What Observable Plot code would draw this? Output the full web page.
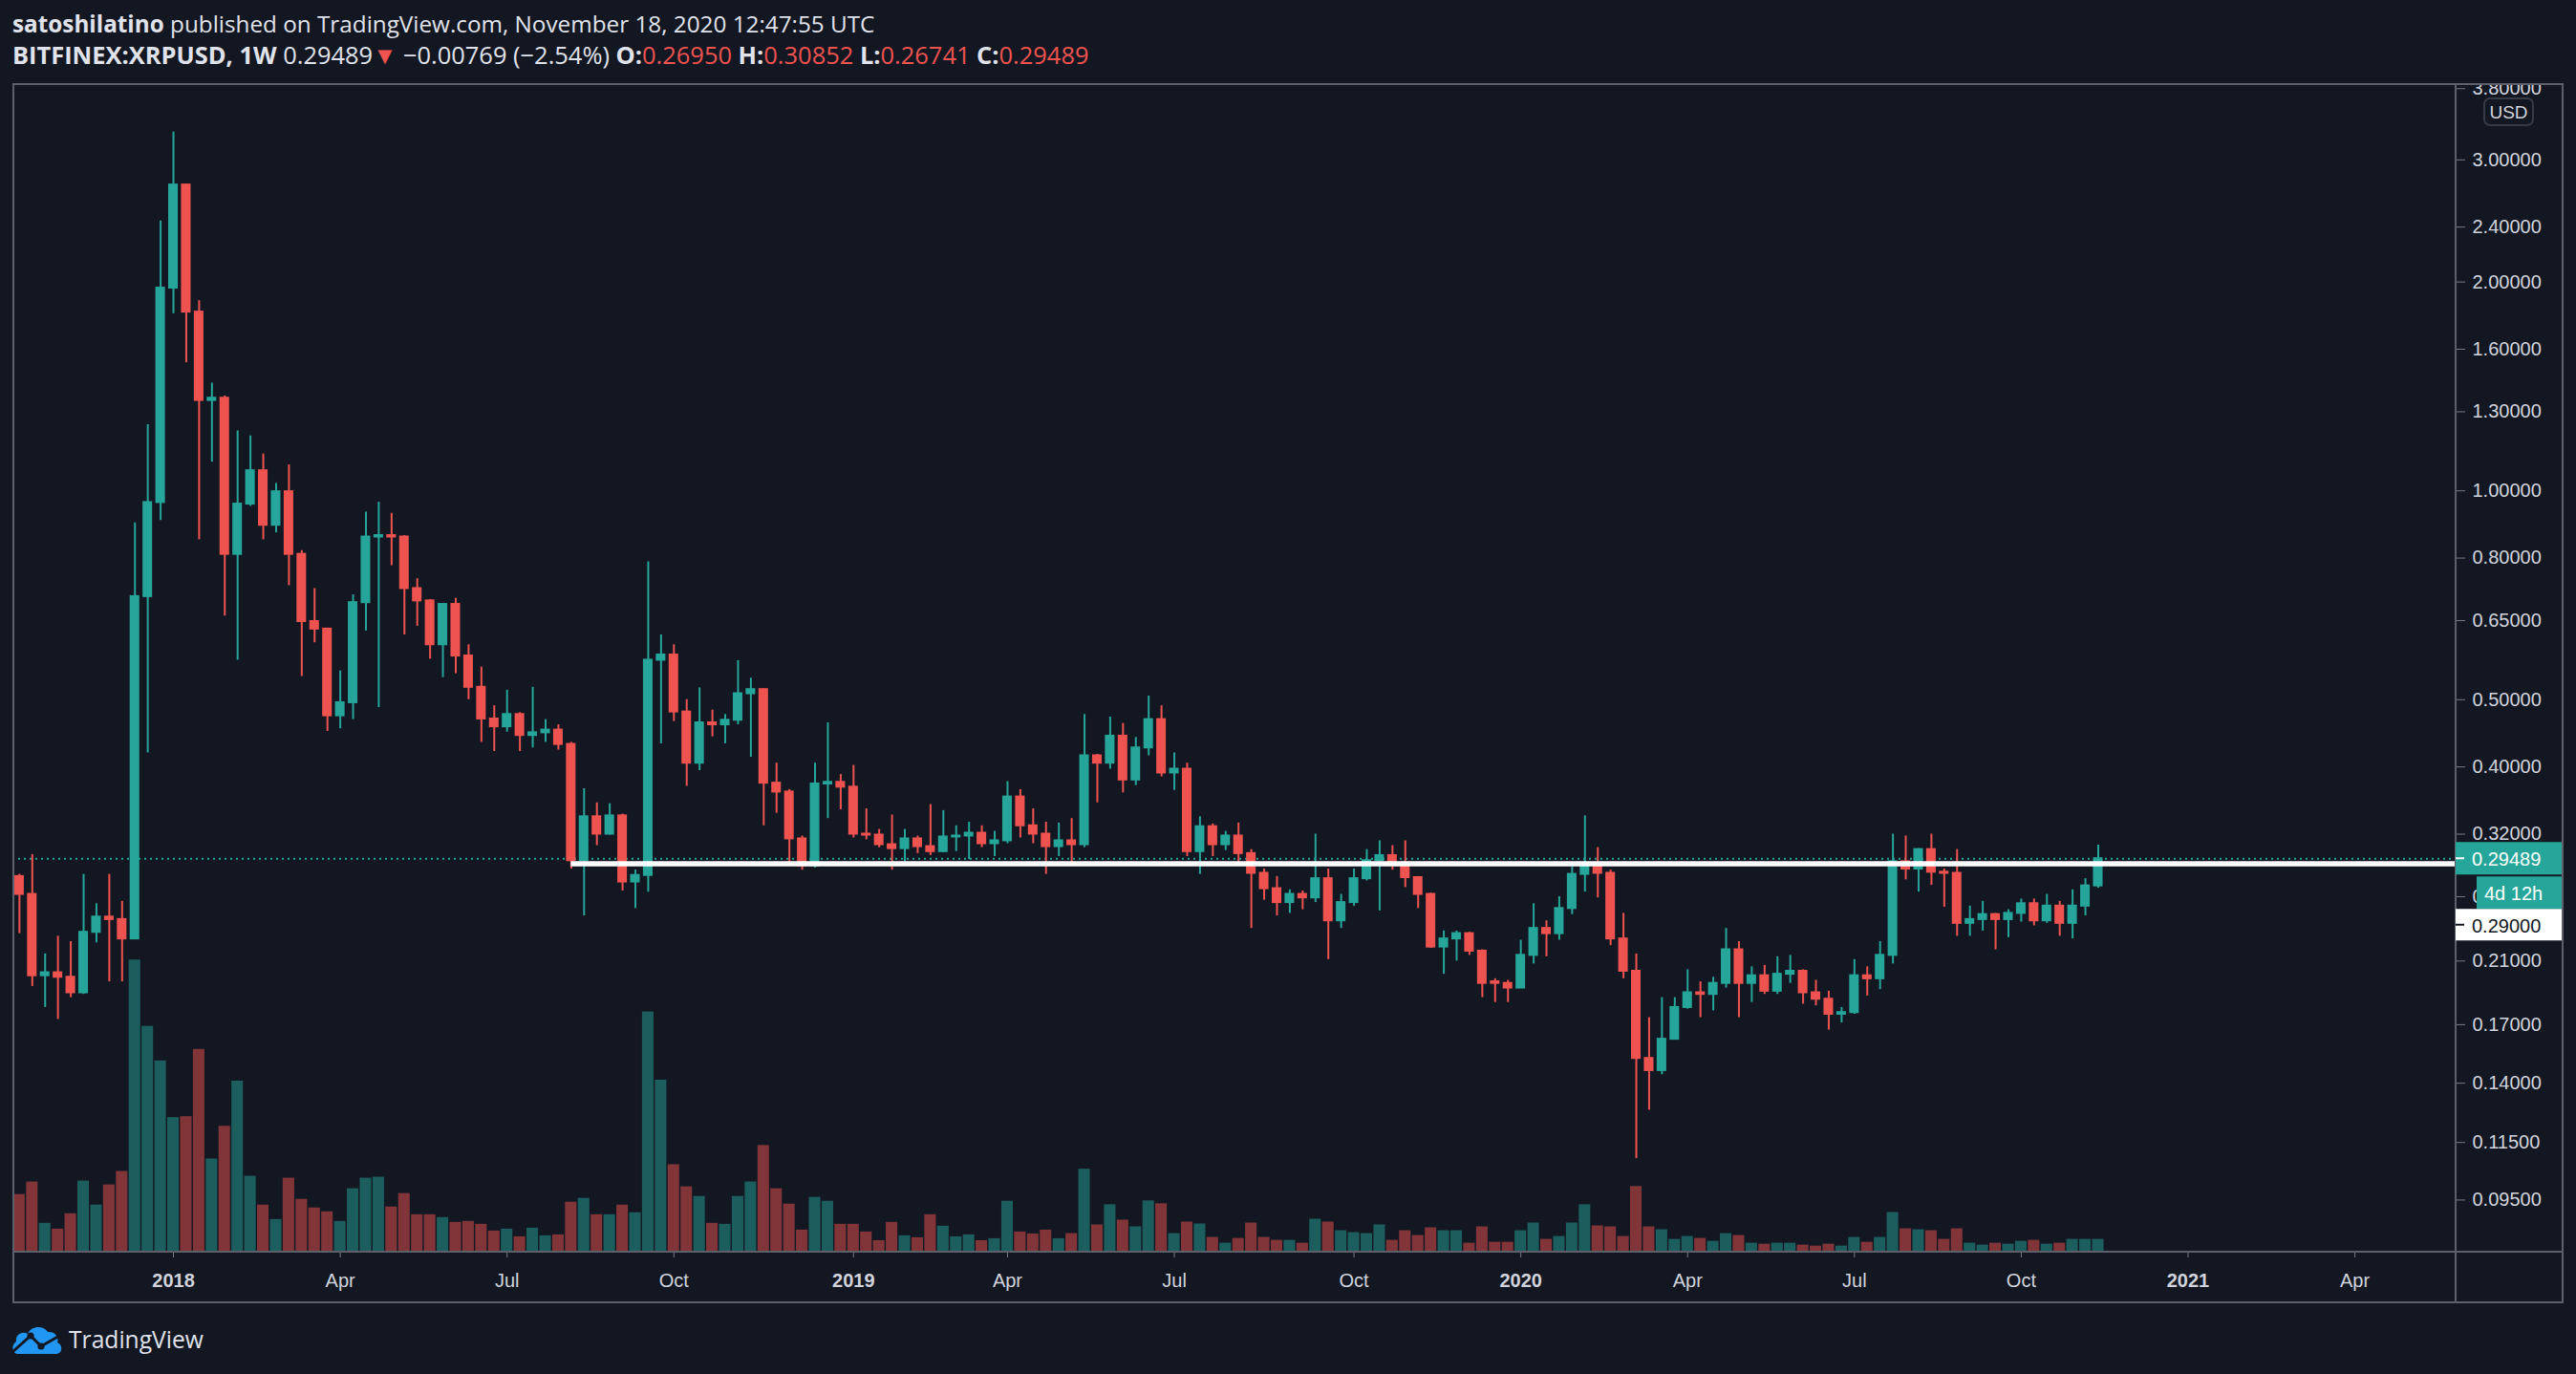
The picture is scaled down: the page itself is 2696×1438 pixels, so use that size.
<!DOCTYPE html>
<html>
<head>
<meta charset="utf-8">
<script src="https://cdn.jsdelivr.net/npm/d3@7"></script>
<script src="https://cdn.jsdelivr.net/npm/@observablehq/plot@0.6"></script>
<style>
html, body { margin: 0; padding: 0; background: #131722; }
#root { position: relative; width: 2696px; height: 1438px; background: #131722; overflow: hidden; }
.hdr { position: absolute; left: 13px; white-space: nowrap; color: #e0e3eb; font-family: "Open Sans", sans-serif; font-size: 22px; line-height: 1; }
.hdr b { font-weight: 700; }
.red { color: #ef5350; }
.layer { position: absolute; left: 13px; top: 87px; }
#logo { position: absolute; left: 12px; top: 1386px; display: flex; align-items: center; }
#logo span { font-family: "Open Sans", sans-serif; color: #e0e3eb; font-size: 30px; line-height: 1; margin-left: 6px; }
</style>
</head>
<body>
<div id="root">
  <div class="hdr" id="h1"><b>satoshilatino</b> published on TradingView.com, November 18, 2020 12:47:55 UTC</div>
  <div class="hdr" id="h2"><b>BITFINEX:XRPUSD, 1W</b> 0.29489<span class="red">▼</span> −0.00769 (−2.54%) <b>O:</b><span class="red">0.26950</span> <b>H:</b><span class="red">0.30852</span> <b>L:</b><span class="red">0.26741</span> <b>C:</b><span class="red">0.29489</span></div>
  <div class="layer" id="volLayer"></div>
  <div class="layer" id="priceLayer"></div>
  <div id="logo">
    <svg width="54" height="32" viewBox="0 0 54 32">
      <path d="M7 31 C1 31 -1 22 5 18 C4 10 12 7 17 10 C20 2 33 0 38 8 C46 7 50 14 48 19 C54 21 54 31 46 31 Z" fill="#2196f3"/>
      <polyline points="1,29 20,12 31,23 52,11" fill="none" stroke="#131722" stroke-width="3"/>
      <circle cx="20" cy="12" r="3.6" fill="#131722"/>
      <circle cx="31" cy="23" r="3.6" fill="#131722"/>
    </svg>
    <span id="logoText">TradingView</span>
  </div>
</div>
<script>
// ---------------- data (weekly candles, BITFINEX:XRPUSD) ----------------
const firstWeek = "2017-10-09";
const openP = [
  0.278,0.262,0.200,0.202,0.199,0.189,0.231,0.243,0.241,0.226,
  0.704,0.962,1.96,2.76,1.81,1.35,1.36,0.81,0.957,1.069,
  0.892,0.997,0.81,0.648,0.632,0.474,0.495,0.69,0.858,0.862,
  0.858,0.723,0.694,0.60,0.686,0.578,0.521,0.469,0.457,0.476,
  0.444,0.448,0.452,0.431,0.293,0.339,0.32,0.34,0.273,0.279,
  0.57,0.58,0.48,0.405,0.463,0.46,0.467,0.51,0.517,0.379,
  0.368,0.315,0.288,0.378,0.38,0.374,0.32,0.319,0.309,0.305,
  0.315,0.307,0.302,0.317,0.318,0.321,0.31,0.313,0.362,0.329,
  0.32,0.307,0.313,0.309,0.415,0.405,0.443,0.383,0.426,0.468,
  0.392,0.397,0.302,0.328,0.309,0.318,0.30,0.281,0.267,0.255,
  0.262,0.259,0.276,0.24,0.255,0.276,0.293,0.298,0.291,0.277,
  0.262,0.22,0.226,0.23,0.217,0.196,0.195,0.192,0.214,0.234,
  0.23,0.25,0.28,0.29,0.281,0.226,0.203,0.152,0.146,0.162,
  0.18,0.189,0.188,0.195,0.218,0.195,0.20,0.19,0.201,0.203,
  0.189,0.185,0.176,0.177,0.20,0.198,0.214,0.292,0.285,0.304,
  0.282,0.281,0.238,0.241,0.245,0.241,0.246,0.254,0.24,0.252,
  0.238,0.252,0.2695
];
const highP = [
  0.280,0.299,0.215,0.228,0.224,0.280,0.254,0.280,0.256,0.899,
  1.245,2.45,3.29,2.77,1.88,1.43,1.37,1.22,1.20,1.13,
  1.025,1.09,0.82,0.723,0.634,0.55,0.708,0.932,0.963,0.928,
  0.862,0.747,0.697,0.686,0.70,0.60,0.557,0.49,0.516,0.479,
  0.521,0.468,0.46,0.434,0.372,0.355,0.354,0.342,0.284,0.79,
  0.62,0.60,0.50,0.52,0.483,0.476,0.569,0.537,0.518,0.405,
  0.371,0.318,0.405,0.463,0.39,0.402,0.348,0.325,0.341,0.325,
  0.318,0.353,0.346,0.329,0.333,0.329,0.323,0.381,0.371,0.348,
  0.333,0.332,0.337,0.476,0.417,0.472,0.462,0.441,0.506,0.49,
  0.419,0.405,0.339,0.331,0.323,0.332,0.304,0.285,0.278,0.266,
  0.265,0.32,0.285,0.262,0.285,0.304,0.313,0.308,0.313,0.278,
  0.263,0.232,0.232,0.231,0.218,0.198,0.197,0.225,0.254,0.24,
  0.26,0.287,0.34,0.306,0.284,0.246,0.215,0.174,0.186,0.186,
  0.204,0.196,0.199,0.234,0.224,0.206,0.207,0.213,0.214,0.204,
  0.197,0.19,0.18,0.211,0.206,0.224,0.32,0.318,0.305,0.32,
  0.285,0.304,0.252,0.256,0.246,0.249,0.258,0.258,0.262,0.256,
  0.266,0.276,0.30852
];
const lowP = [
  0.230,0.193,0.180,0.173,0.186,0.188,0.223,0.196,0.196,0.226,
  0.419,0.906,1.80,1.53,0.85,1.10,0.66,0.57,0.95,0.85,
  0.87,0.73,0.54,0.604,0.45,0.454,0.468,0.628,0.487,0.78,
  0.62,0.638,0.572,0.538,0.545,0.50,0.434,0.421,0.449,0.421,
  0.426,0.434,0.423,0.285,0.244,0.308,0.319,0.265,0.25,0.264,
  0.432,0.465,0.375,0.395,0.442,0.432,0.46,0.413,0.329,0.343,
  0.29,0.284,0.286,0.337,0.347,0.316,0.314,0.306,0.284,0.292,
  0.30,0.298,0.301,0.302,0.294,0.306,0.297,0.31,0.316,0.31,
  0.28,0.297,0.291,0.306,0.355,0.397,0.367,0.376,0.415,0.387,
  0.37,0.297,0.28,0.297,0.303,0.29,0.234,0.257,0.244,0.246,
  0.249,0.255,0.211,0.234,0.252,0.274,0.248,0.284,0.268,0.25,
  0.219,0.201,0.21,0.214,0.186,0.183,0.183,0.192,0.208,0.213,
  0.225,0.245,0.264,0.259,0.221,0.198,0.109,0.128,0.144,0.162,
  0.179,0.174,0.178,0.192,0.174,0.183,0.188,0.188,0.195,0.182,
  0.181,0.167,0.171,0.176,0.187,0.191,0.208,0.275,0.264,0.27,
  0.251,0.228,0.228,0.232,0.218,0.227,0.239,0.236,0.238,0.228,
  0.226,0.244,0.26741
];
const closeP = [
  0.262,0.200,0.202,0.199,0.189,0.231,0.243,0.241,0.226,0.704,
  0.962,1.96,2.76,1.81,1.35,1.36,0.81,0.957,1.069,0.892,
  0.997,0.81,0.648,0.632,0.474,0.495,0.69,0.858,0.862,0.858,
  0.723,0.694,0.60,0.686,0.578,0.521,0.469,0.457,0.476,0.444,
  0.448,0.452,0.431,0.293,0.339,0.32,0.34,0.273,0.279,0.57,
  0.58,0.48,0.405,0.463,0.46,0.467,0.51,0.517,0.379,0.368,
  0.315,0.288,0.378,0.38,0.374,0.32,0.319,0.309,0.305,0.315,
  0.307,0.302,0.317,0.318,0.321,0.31,0.313,0.362,0.329,0.32,
  0.307,0.313,0.309,0.415,0.405,0.443,0.383,0.426,0.468,0.392,
  0.397,0.302,0.328,0.309,0.318,0.30,0.281,0.267,0.255,0.262,
  0.259,0.276,0.24,0.255,0.276,0.293,0.298,0.291,0.277,0.262,
  0.22,0.226,0.23,0.217,0.195,0.195,0.192,0.214,0.234,0.23,
  0.25,0.28,0.29,0.281,0.226,0.203,0.152,0.146,0.162,0.18,
  0.189,0.188,0.195,0.218,0.195,0.20,0.19,0.201,0.203,0.189,
  0.185,0.176,0.177,0.20,0.198,0.214,0.292,0.285,0.304,0.282,
  0.281,0.238,0.241,0.245,0.241,0.246,0.254,0.24,0.252,0.238,
  0.252,0.2695,0.29489
];
const volumeV = [
  180,219,90,72,120,222,147,210,252,912,
  705,597,420,423,633,291,393,534,237,147,
  102,231,165,138,126,96,198,231,234,141,
  183,117,117,108,93,96,87,66,72,48,
  75,51,54,156,168,117,117,147,123,750,
  537,273,204,174,90,87,174,219,333,198,
  150,69,171,159,87,87,63,36,93,51,
  45,117,81,48,54,36,42,159,63,57,
  69,42,58,259,85,148,100,79,160,151,
  58,94,88,46,28,43,91,46,37,37,
  28,103,94,67,61,58,85,37,67,52,
  76,67,67,28,79,31,31,67,91,40,
  49,91,148,82,79,49,205,79,70,40,
  49,43,34,58,52,28,25,28,28,22,
  19,25,19,46,31,46,124,73,70,67,
  40,73,28,22,28,25,34,37,25,28,
  40,40,40
];
const priceTicks = [3.8, 3.0, 2.4, 2.0, 1.6, 1.3, 1.0, 0.8, 0.65, 0.5, 0.4, 0.32, 0.26, 0.21, 0.17, 0.14, 0.115, 0.095];
const monthTickDates = ["2018-04-02","2018-07-02","2018-10-01","2019-04-01","2019-07-01","2019-10-07","2020-04-06","2020-07-06","2020-10-05","2021-04-05"];
const monthTickLabels = ["Apr","Jul","Oct","Apr","Jul","Oct","Apr","Jul","Oct","Apr"];
const yearTickDates = ["2018-01-01","2019-01-07","2020-01-06","2021-01-04"];
const yearTickLabels = ["2018","2019","2020","2021"];
const lastPrice = 0.29489;
const levelPrice = 0.29;
const levelStart = "2018-08-06";
const countdownText = "4d 12h";
const xDomain = ["2017-10-05T10:00Z", "2021-05-30T05:00Z"];
const yDomain = [0.0799, 3.864];

// ---------------- build ----------------
const up = "#26a69a", down = "#ef5350";
const upVol = "rgba(38,166,154,0.5)", downVol = "rgba(239,83,80,0.5)";
const t0 = new Date(firstWeek + "T00:00Z");
const data = openP.map((o, i) => {
  const date = d3.utcDay.offset(t0, 7 * i);
  return {
    date, t0: d3.utcHour.offset(date, -84), t1: d3.utcHour.offset(date, 84),
    open: o, high: highP[i], low: lowP[i], close: closeP[i], volume: volumeV[i],
    up: closeP[i] >= o
  };
});
const xd = xDomain.map(d => new Date(d));
const W = 2670, H = 1277, MR = 113, MB = 54;
const axisFont = "'Liberation Sans', Arial, sans-serif";

const vol = Plot.plot({
  width: W, height: H, marginLeft: 0, marginTop: 0, marginRight: MR, marginBottom: MB,
  style: {background: "transparent", overflow: "hidden"},
  x: {type: "utc", domain: xd, axis: null},
  y: {domain: [0, d3.max(volumeV) / 0.25], axis: null},
  marks: [
    Plot.rectY(data, {x1: "t0", x2: "t1", y: "volume", fill: d => d.up ? upVol : downVol, insetLeft: 0.7, insetRight: 0.7})
  ]
});
document.getElementById("volLayer").appendChild(vol);

const monthMap = new Map(monthTickDates.map((d, i) => [+new Date(d + "T00:00Z"), monthTickLabels[i]]));
const yearMap = new Map(yearTickDates.map((d, i) => [+new Date(d + "T00:00Z"), yearTickLabels[i]]));

const price = Plot.plot({
  width: W, height: H, marginLeft: 0, marginTop: 0, marginRight: MR, marginBottom: MB,
  style: {background: "transparent", overflow: "hidden", fontFamily: axisFont},
  x: {type: "utc", domain: xd, label: null},
  y: {type: "log", domain: yDomain, label: null},
  marks: [
    Plot.ruleY([lastPrice], {stroke: up, strokeWidth: 2, strokeDasharray: "2,4"}),
    Plot.ruleX(data, {x: "date", y1: "low", y2: "high", stroke: d => d.up ? up : down, strokeWidth: 2}),
    Plot.rect(data, {x1: "t0", x2: "t1", y1: "open", y2: "close", fill: d => d.up ? up : down,
      insetLeft: 1.7, insetRight: 1.7, insetTop: -1, insetBottom: -1}),
    Plot.ruleY([levelPrice], {x1: () => new Date(levelStart + "T00:00Z"), x2: () => xd[1], stroke: "#ffffff", strokeWidth: 5.5}),
    Plot.axisY(priceTicks, {anchor: "right", tickSize: 9, tickPadding: 8, tickFormat: d3.format(".5f"),
      fontSize: 20, stroke: "#787b86", fill: "#d1d4dc", label: null}),
    Plot.axisX(monthTickDates.map(d => new Date(d + "T00:00Z")), {anchor: "bottom", tickSize: 6, tickPadding: 16,
      tickFormat: d => monthMap.get(+d), fontSize: 20, stroke: "#787b86", fill: "#d1d4dc", label: null}),
    Plot.axisX(yearTickDates.map(d => new Date(d + "T00:00Z")), {anchor: "bottom", tickSize: 6, tickPadding: 16,
      tickFormat: d => yearMap.get(+d), fontSize: 20, fontWeight: "bold", stroke: "#787b86", fill: "#d1d4dc", label: null})
  ]
});
document.getElementById("priceLayer").appendChild(price);

// ---------- frame, price labels and badges (positions from the library's scales) ----------
const svg = d3.select(price);
const ys = price.scale("y");
const plotR = W - MR, plotB = H - MB;
const frameColor = "#5d606b";
const g = svg.append("g").attr("text-anchor", "start");
g.append("rect").attr("x", 1).attr("y", 1).attr("width", W - 2).attr("height", H - 2)
  .attr("fill", "none").attr("stroke", frameColor).attr("stroke-width", 2);
g.append("line").attr("x1", plotR).attr("x2", plotR).attr("y1", 0).attr("y2", H)
  .attr("stroke", frameColor).attr("stroke-width", 2);
g.append("line").attr("x1", 0).attr("x2", W).attr("y1", plotB).attr("y2", plotB)
  .attr("stroke", frameColor).attr("stroke-width", 2);

// USD badge
g.append("rect").attr("x", plotR + 30).attr("y", 16).attr("width", 51).attr("height", 28).attr("rx", 6)
  .attr("fill", "#131722").attr("stroke", "#363a45").attr("stroke-width", 2);
g.append("text").attr("x", plotR + 55.5).attr("y", 30).attr("text-anchor", "middle").attr("dominant-baseline", "central")
  .attr("fill", "#d1d4dc").attr("font-size", 19).attr("font-family", axisFont).text("USD");

const yl = ys.apply(lastPrice);
function label(y0, h, x0, bg, fg, txt, tick) {
  g.append("rect").attr("x", x0).attr("y", y0).attr("width", W - 2 - x0).attr("height", h).attr("fill", bg);
  if (tick) g.append("line").attr("x1", plotR).attr("x2", plotR + 9).attr("y1", y0 + h / 2).attr("y2", y0 + h / 2)
    .attr("stroke", fg).attr("stroke-width", 2);
  g.append("text").attr("x", x0 === plotR ? plotR + 17 : x0 + 8).attr("y", y0 + h / 2 + 1)
    .attr("text-anchor", "start").attr("dominant-baseline", "central")
    .attr("fill", fg).attr("font-size", 20).attr("font-family", axisFont).text(txt);
}
label(yl - 17, 34, plotR, up, "#ffffff", d3.format(".5f")(lastPrice), true);
label(yl + 19, 34, plotR + 22, up, "#ffffff", countdownText, false);
label(yl + 53, 33, plotR, "#ffffff", "#131722", d3.format(".5f")(levelPrice), true);

// ---------- header: fit text to the measured widths ----------
function fit(id, target, centerY) {
  const el = document.getElementById(id);
  const fs = parseFloat(getComputedStyle(el).fontSize);
  const w = el.getBoundingClientRect().width;
  const nfs = fs * target / w;
  el.style.fontSize = nfs + "px";
  el.style.top = (centerY - nfs / 2) + "px";
}
fit("h1", 903, 25);
fit("h2", 1127, 58);
(function () {
  const el = document.getElementById("logoText");
  const fs = parseFloat(getComputedStyle(el).fontSize);
  const w = el.getBoundingClientRect().width;
  el.style.fontSize = (fs * 141 / w) + "px";
})();
</script>
</body>
</html>
